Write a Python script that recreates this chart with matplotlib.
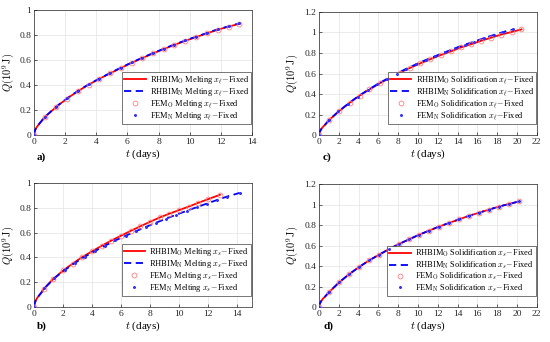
import numpy as np
import matplotlib
matplotlib.use('Agg')
import matplotlib.pyplot as plt

plt.rcParams['font.family'] = 'serif'
plt.rcParams['font.serif'] = ['Liberation Serif', 'DejaVu Serif']
plt.rcParams['mathtext.fontset'] = 'cm'

# panel a) melting, x_l fixed
a_t_fem = [0, 0.7, 1.42, 2.12, 2.83, 3.52, 4.2, 4.9, 5.58, 6.27, 6.95, 7.64, 8.33, 9.0, 9.72, 10.4, 11.1, 11.8, 12.5, 13.2]
a_q_fem_o = [0, 0.145, 0.225, 0.292, 0.352, 0.404, 0.45, 0.494, 0.536, 0.577, 0.615, 0.652, 0.687, 0.72, 0.753, 0.783, 0.812, 0.842, 0.866, 0.89]
a_q_fem_n = [0, 0.146, 0.227, 0.294, 0.355, 0.406, 0.452, 0.497, 0.539, 0.58, 0.618, 0.655, 0.69, 0.723, 0.756, 0.786, 0.815, 0.845, 0.869, 0.893]
a_t_line = [0, 0.05, 0.15, 0.3, 0.5] + a_t_fem[1:]
a_q_line_o = [0, 0.035, 0.06, 0.085, 0.115] + a_q_fem_o[1:]
a_q_line_n = [0, 0.036, 0.061, 0.086, 0.116] + a_q_fem_n[1:]

# panel b) melting, x_s fixed
b_t_fem_o = [0, 0.65, 1.3, 2.0, 2.65, 3.3, 4.0, 4.65, 5.3, 6.0, 6.65, 7.3, 8.0, 8.65, 9.3, 10.0, 10.65, 11.3, 12.0, 12.8]
b_q_fem_o = [0, 0.145, 0.225, 0.295, 0.35, 0.402, 0.45, 0.494, 0.535, 0.576, 0.614, 0.65, 0.688, 0.722, 0.752, 0.782, 0.81, 0.84, 0.87, 0.905]
b_t_fem_n = [0, 0.7, 1.4, 2.1, 2.8, 3.5, 4.2, 4.9, 5.6, 6.3, 7.0, 7.7, 8.4, 9.1, 9.8, 10.5, 11.2, 11.9, 12.6, 13.3, 14.15]
b_q_fem_n = [0, 0.15, 0.233, 0.298, 0.355, 0.407, 0.452, 0.496, 0.537, 0.575, 0.611, 0.646, 0.68, 0.713, 0.745, 0.775, 0.805, 0.834, 0.863, 0.891, 0.92]
b_t_line_o = [0, 0.05, 0.15, 0.3, 0.5] + b_t_fem_o[1:]
b_q_line_o = [0, 0.035, 0.062, 0.088, 0.118] + b_q_fem_o[1:]
b_t_line_n = [0, 0.05, 0.15, 0.3, 0.5] + b_t_fem_n[1:]
b_q_line_n = [0, 0.035, 0.061, 0.087, 0.116] + b_q_fem_n[1:]

# panel c) solidification, x_l fixed
c_t_fem_o = [0, 1.0, 2.05, 3.1, 4.1, 5.1, 6.15, 7.2, 8.2, 9.2, 10.25, 11.25, 12.3, 13.3, 14.35, 15.35, 16.4, 17.4, 18.4, 19.45, 20.45]
c_q_fem_o = [0, 0.145, 0.235, 0.315, 0.385, 0.445, 0.505, 0.56, 0.61, 0.655, 0.7, 0.74, 0.78, 0.815, 0.855, 0.885, 0.92, 0.95, 0.98, 1.005, 1.03]
c_t_fem_n = [0, 0.98, 1.96, 2.94, 3.92, 4.9, 5.88, 6.86, 7.84, 8.82, 9.8, 10.78, 11.76, 12.74, 13.72, 14.7, 15.68, 16.66, 17.64, 18.62, 19.6]
c_q_fem_n = [0, 0.143, 0.23, 0.305, 0.376, 0.437, 0.495, 0.548, 0.6, 0.646, 0.69, 0.732, 0.77, 0.808, 0.846, 0.881, 0.911, 0.945, 0.975, 1.005, 1.03]
c_t_line_o = [0, 0.07, 0.2, 0.4, 0.7] + c_t_fem_o[1:]
c_q_line_o = [0, 0.03, 0.055, 0.08, 0.11] + c_q_fem_o[1:]
c_t_line_n = [0, 0.07, 0.2, 0.4, 0.7] + c_t_fem_n[1:]
c_q_line_n = [0, 0.03, 0.055, 0.081, 0.111] + c_q_fem_n[1:]

# panel d) solidification, x_s fixed
d_t_fem = [0, 1.01, 2.02, 3.03, 4.04, 5.05, 6.06, 7.07, 8.08, 9.09, 10.1, 11.11, 12.12, 13.13, 14.14, 15.15, 16.16, 17.17, 18.18, 19.19, 20.2]
d_q_fem_o = [0, 0.145, 0.24, 0.32, 0.39, 0.455, 0.51, 0.565, 0.615, 0.66, 0.705, 0.745, 0.785, 0.82, 0.855, 0.89, 0.92, 0.95, 0.98, 1.005, 1.03]
d_q_fem_n = [0, 0.145, 0.24, 0.32, 0.39, 0.455, 0.51, 0.565, 0.615, 0.66, 0.705, 0.745, 0.785, 0.82, 0.855, 0.89, 0.92, 0.95, 0.98, 1.005, 1.03]
d_t_line = [0, 0.07, 0.2, 0.4, 0.7] + d_t_fem[1:]
d_q_line_o = [0, 0.03, 0.056, 0.082, 0.112] + d_q_fem_o[1:]
d_q_line_n = [0, 0.03, 0.056, 0.082, 0.112] + d_q_fem_n[1:]


def panel(ax, lo, ln, fo, fn, proc, xs, xmax, ymax):
    ax.plot(lo[0], lo[1], color='#ff0000', lw=1.3, zorder=3,
            label=r'RHBIM$_\mathrm{O}$ %s $x_%s\!-\!$Fixed' % (proc, xs))
    ax.plot(ln[0], ln[1], color='#0000ff', lw=1.3, ls=(0, (4, 2.5)), zorder=4,
            label=r'RHBIM$_\mathrm{N}$ %s $x_%s\!-\!$Fixed' % (proc, xs))
    ax.plot(fo[0], fo[1], ls='none', marker='o', ms=3.5, mfc='none', mec='#ff8080', mew=0.6, zorder=5,
            label=r'FEM$_\mathrm{O}$ %s $x_%s\!-\!$Fixed' % (proc, xs))
    ax.plot(fn[0], fn[1], ls='none', marker='.', ms=2.3, color='#3030ff', zorder=6,
            label=r'FEM$_\mathrm{N}$ %s $x_%s\!-\!$Fixed' % (proc, xs))
    ax.set_xlim(0, xmax)
    ax.set_ylim(0, ymax)
    ax.set_xticks(np.arange(0, xmax + 0.1, 2))
    ax.set_yticks(np.arange(0, ymax + 0.01, 0.2))
    ax.yaxis.set_major_formatter(plt.FuncFormatter(lambda v, p: ('%.1f' % v).rstrip('0').rstrip('.') if v else '0'))
    ax.grid(True, color='#e3e3e3', lw=0.5)
    ax.set_axisbelow(True)
    ax.tick_params(direction='in', labelsize=6.8, length=2.5, width=0.5, colors='#262626', pad=2)
    for s in ax.spines.values():
        s.set_linewidth(0.5)
        s.set_color('#262626')
    ax.set_xlabel(r'$t$ (days)', fontsize=8, labelpad=1)
    ax.set_ylabel(r'$Q(10^9\,\mathrm{J})$', fontsize=7.5)
    ax.yaxis.set_label_coords(-0.085, 0.5)
    leg = ax.legend(loc='lower right', bbox_to_anchor=(1.0, 0.085), fontsize=6, borderaxespad=0.1,
                    handlelength=2.6, labelspacing=0.0, handletextpad=0.5, borderpad=0.25,
                    fancybox=False, framealpha=1)
    leg.get_frame().set_edgecolor('#404040')
    leg.get_frame().set_linewidth(0.5)


fig = plt.figure(figsize=(5.5, 3.42), dpi=100)
ax_a = fig.add_axes([0.062, 0.605, 0.396, 0.366])
ax_c = fig.add_axes([0.58, 0.605, 0.396, 0.36])
ax_b = fig.add_axes([0.062, 0.102, 0.396, 0.363])
ax_d = fig.add_axes([0.58, 0.102, 0.396, 0.36])

panel(ax_a, (a_t_line, a_q_line_o), (a_t_line, a_q_line_n), (a_t_fem, a_q_fem_o), (a_t_fem, a_q_fem_n),
      'Melting', r'\ell', 14, 1.0)
panel(ax_b, (b_t_line_o, b_q_line_o), (b_t_line_n, b_q_line_n), (b_t_fem_o, b_q_fem_o), (b_t_fem_n, b_q_fem_n),
      'Melting', 's', 15, 1.0)
panel(ax_c, (c_t_line_o, c_q_line_o), (c_t_line_n, c_q_line_n), (c_t_fem_o, c_q_fem_o), (c_t_fem_n, c_q_fem_n),
      'Solidification', r'\ell', 22, 1.2)
panel(ax_d, (d_t_line, d_q_line_o), (d_t_line, d_q_line_n), (d_t_fem, d_q_fem_o), (d_t_fem, d_q_fem_n),
      'Solidification', 's', 22, 1.2)
ax_b.set_xticks(np.arange(0, 15, 2))

for lab, x, y in [('a)', 37, 157), ('b)', 37, 326), ('c)', 323, 157), ('d)', 323, 326)]:
    fig.text(x / 550, 1 - y / 342, lab, fontsize=8, fontweight='bold', va='center', ha='left')

plt.savefig('out.png', dpi=100)
